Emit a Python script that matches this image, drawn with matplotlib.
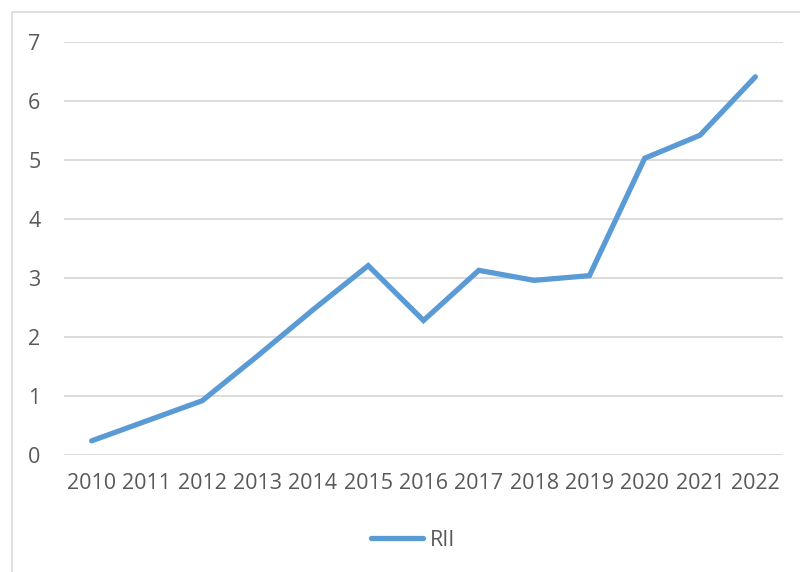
import matplotlib

matplotlib.use("Agg")
import matplotlib.pyplot as plt
from matplotlib.patches import Rectangle

years = ["2010", "2011", "2012", "2013", "2014", "2015", "2016",
         "2017", "2018", "2019", "2020", "2021", "2022"]
rii = [0.24, 0.58, 0.92, 1.68, 2.46, 3.21, 2.28,
       3.13, 2.96, 3.04, 5.03, 5.42, 6.41]
y_ticks = [0, 1, 2, 3, 4, 5, 6, 7]

LINE_COLOR = "#5b9bd5"
TEXT_COLOR = "#595959"
GRID_COLOR = "#d9d9d9"

plt.rcParams["font.family"] = ["Open Sans", "DejaVu Sans"]

fig = plt.figure(figsize=(8, 5.72), dpi=100)
# chart frame, runs off the right and bottom edges like the source image
fig.patches.append(Rectangle((12 / 800, -0.1), 1.2, (572 - 12) / 572 + 0.1,
                             transform=fig.transFigure, fill=False,
                             edgecolor=GRID_COLOR, linewidth=1.2))

ax = fig.add_axes([64 / 800, (572 - 455) / 572, (783 - 64) / 800, (455 - 42) / 572])
x = list(range(len(years)))
ax.plot(x, rii, color=LINE_COLOR, linewidth=3.8, solid_capstyle="round",
        solid_joinstyle="miter", label="RII", zorder=3)

ax.set_xlim(-0.5, len(years) - 0.5)
ax.set_ylim(0, 7)
ax.set_xticks(x)
ax.set_xticklabels(years)
ax.set_yticks(y_ticks)
ax.tick_params(axis="both", length=0, labelsize=15.5, labelcolor=TEXT_COLOR)
ax.tick_params(axis="y", pad=17)
ax.tick_params(axis="x", pad=13)
ax.grid(True, axis="y", color=GRID_COLOR, linewidth=1.3)
ax.set_axisbelow(True)
for s in ax.spines.values():
    s.set_visible(False)

leg = fig.legend(loc="center", bbox_to_anchor=(413 / 800, 1 - 540 / 572),
                 frameon=False, fontsize=15.5, handlelength=2.4, handletextpad=0.3,
                 labelcolor=TEXT_COLOR)
for h in leg.get_lines():
    h.set_linewidth(3.8)

fig.savefig("out.png", dpi=100)
